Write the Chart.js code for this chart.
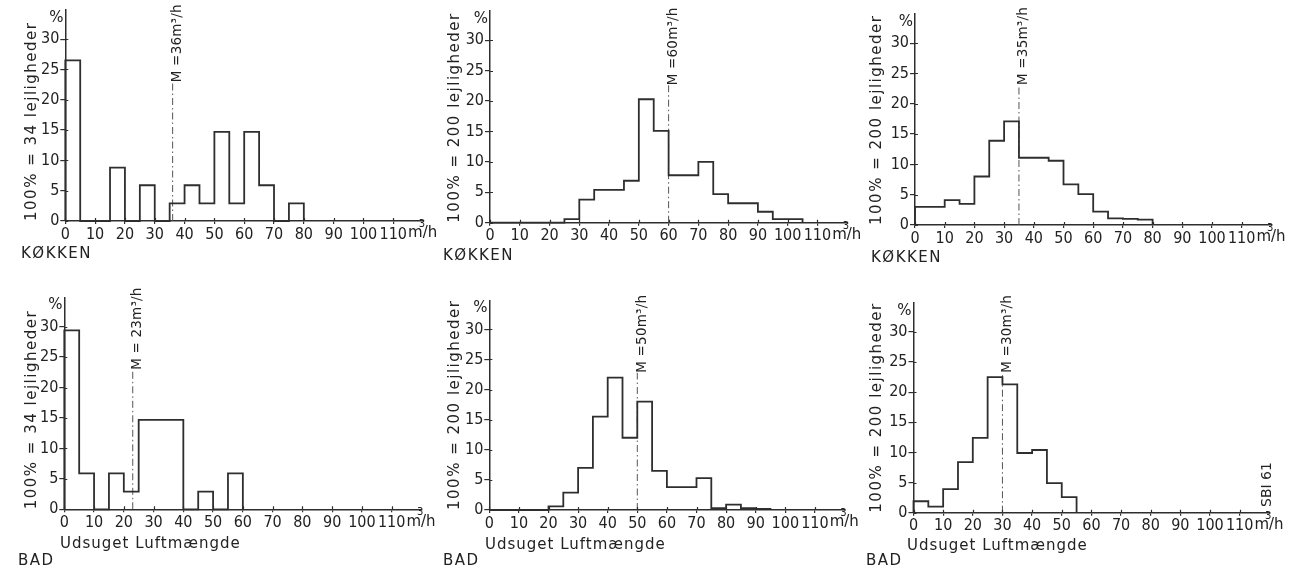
<!DOCTYPE html>
<html>
<head>
<meta charset="utf-8">
<script src="https://cdn.jsdelivr.net/npm/chart.js@4.4.1/dist/chart.umd.min.js"></script>
<style>
  html, body { margin: 0; padding: 0; background: #fff; width: 1304px; height: 573px; overflow: hidden; }
  canvas { position: absolute; }
</style>
</head>
<body>
<canvas id="c1"></canvas>
<canvas id="c2"></canvas>
<canvas id="c3"></canvas>
<canvas id="c4"></canvas>
<canvas id="c5"></canvas>
<canvas id="c6"></canvas>
<script>
// Lower edge of each 5 m³/h class
const binStarts = [0, 5, 10, 15, 20, 25, 30, 35, 40, 45, 50, 55, 60, 65, 70, 75, 80, 85, 90, 95, 100, 105, 110];
const xTicks = [0, 10, 20, 30, 40, 50, 60, 70, 80, 90, 100, 110];
const yTicks = [0, 5, 10, 15, 20, 25, 30];

// Share of dwellings (%) per class of extracted air flow
const kitchen34   = [26.5, 0, 0, 8.8, 0, 5.9, 0, 2.9, 5.9, 2.9, 14.7, 2.9, 14.7, 5.9, 0, 2.9];
const kitchen200a = [0, 0, 0, 0, 0, 0.6, 3.8, 5.4, 5.4, 6.9, 20.3, 15.1, 7.8, 7.8, 10.0, 4.7, 3.2, 3.2, 1.8, 0.6, 0.6];
const kitchen200b = [3.0, 3.0, 4.1, 3.5, 8.0, 13.9, 17.1, 11.1, 11.1, 10.6, 6.7, 5.1, 2.2, 1.1, 1.0, 0.9];
const bath34      = [29.4, 5.9, 0, 5.9, 2.9, 14.7, 14.7, 14.7, 0, 2.9, 0, 5.9];
const bath200a    = [0, 0, 0, 0, 0.6, 2.9, 7.0, 15.5, 22.0, 12.0, 18.0, 6.5, 3.8, 3.8, 5.3, 0.3, 0.9, 0.3, 0.2];
const bath200b    = [1.9, 1.0, 3.9, 8.4, 12.4, 22.5, 21.3, 9.9, 10.4, 4.9, 2.6];

// Mean flow per group (m³/h)
const means = [36, 60, 35, 23, 50, 30];
const meanLabels = ['M =36m³/h', 'M =60m³/h', 'M =35m³/h', 'M = 23m³/h', 'M =50m³/h', 'M =30m³/h'];
const yTitles = ['100% = 34 lejligheder', '100% = 200 lejligheder', '100% = 200 lejligheder',
                 '100% = 34 lejligheder', '100% = 200 lejligheder', '100% = 200 lejligheder'];

const FONT = "'DejaVu Sans', sans-serif";
const NARROW = "'Liberation Sans Narrow', 'DejaVu Sans Condensed', 'DejaVu Sans', sans-serif";
const INK = '#222';
const LINE = '#2e2e2e';

// Page placement of each panel: canvas box and plot rectangle (page px)
const panels = [
  { id: 'c1', values: kitchen34,   box: [0, -10, 440, 290],   area: [65.3, 10.1, 423.1, 221],     titleX: 32,  room: ['KØKKEN', 21, 254] },
  { id: 'c2', values: kitchen200a, box: [430, -10, 440, 290], area: [490, 11.1, 847.2, 222.7],    titleX: 455, room: ['KØKKEN', 443, 256] },
  { id: 'c3', values: kitchen200b, box: [862, -10, 442, 290], area: [915, 14.1, 1271.4, 225],     titleX: 877, room: ['KØKKEN', 871, 258] },
  { id: 'c4', values: bath34,      box: [0, 270, 440, 303],   area: [64.3, 297.4, 421.4, 509.3],  titleX: 32,  room: ['BAD', 18, 561], flow: [60, 544] },
  { id: 'c5', values: bath200a,    box: [430, 270, 440, 303], area: [489.3, 300.5, 844.5, 510],   titleX: 455, room: ['BAD', 443, 561], flow: [485, 545] },
  { id: 'c6', values: bath200b,    box: [862, 270, 442, 303], area: [913.5, 302.9, 1269.3, 512.7], titleX: 877, room: ['BAD', 866, 561], flow: [907, 546], stamp: ['SBI 61', 1267, 507] }
];
const meanTop = [22.9, 22.6, 23.1, 22.9, 22.8, 23.2];

function stepPoints(values) {
  const pts = [{ x: binStarts[0], y: 0 }];
  values.forEach((v, i) => pts.push({ x: binStarts[i], y: v }));
  pts.push({ x: binStarts[values.length], y: 0 });
  return pts;
}

// Annotation layer: tick crosses, %, axis title, mean label, unit, captions
const panelText = {
  id: 'panelText',
  afterDraw(chart, args, o) {
    const ctx = chart.ctx;
    const xs = chart.scales.x, ys = chart.scales.y;
    const ox = o.ox, oy = o.oy;
    ctx.save();
    ctx.strokeStyle = LINE;
    ctx.lineWidth = 1.2;
    ctx.beginPath();
    xs.ticks.forEach(t => {
      const px = Math.round(xs.getPixelForValue(t.value)) + 0.5;
      ctx.moveTo(px, ys.bottom); ctx.lineTo(px, ys.bottom - 3);
    });
    ys.ticks.forEach(t => {
      const py = Math.round(ys.getPixelForValue(t.value)) + 0.5;
      ctx.moveTo(xs.left, py); ctx.lineTo(xs.left + 3, py);
    });
    ctx.stroke();

    ctx.fillStyle = INK;
    ctx.textBaseline = 'middle';
    ctx.textAlign = 'center';
    ctx.font = '15px ' + FONT;
    ctx.fillText('%', xs.left - 9, ys.top + 8);

    // y-axis title, reading upwards from the baseline
    ctx.save();
    ctx.translate(o.titleX - ox, ys.bottom);
    ctx.rotate(-Math.PI / 2);
    ctx.textAlign = 'left';
    ctx.font = '15px ' + FONT;
    ctx.letterSpacing = '1.5px';
    ctx.fillText(o.title, 0, 0);
    ctx.restore();

    // mean label, reading upwards from the top of the mean line
    const mx = xs.getPixelForValue(o.mean), my = ys.getPixelForValue(o.meanTop);
    ctx.save();
    ctx.translate(mx + 5, my);
    ctx.rotate(-Math.PI / 2);
    ctx.textAlign = 'left';
    ctx.font = '13.5px ' + FONT;
    ctx.letterSpacing = '0.2px';
    ctx.fillText(o.meanLabel, 0, 0);
    ctx.restore();

    // unit after the last x tick label
    const ly = ys.bottom + 12.5;
    ctx.font = '16px ' + NARROW;
    const w110 = ctx.measureText('110').width;
    const ux = xs.getPixelForValue(110) + w110 / 2 + 1;
    ctx.textAlign = 'left';
    ctx.font = '15px ' + FONT;
    ctx.fillText('m', ux, ly);
    const mw = ctx.measureText('m').width;
    ctx.font = '10px ' + FONT;
    ctx.fillText('3', ux + mw - 4, ly - 9);
    ctx.font = '15px ' + FONT;
    ctx.fillText('/h', ux + mw, ly);

    // captions below the axis
    ctx.font = '15px ' + FONT;
    ctx.letterSpacing = '1.5px';
    ctx.fillText(o.room[0], o.room[1] - ox, o.room[2] - oy);
    if (o.flow) {
      ctx.letterSpacing = '1px';
      ctx.fillText('Udsuget Luftmængde', o.flow[0] - ox, o.flow[1] - oy);
    }
    ctx.letterSpacing = '0px';
    if (o.stamp) {
      ctx.save();
      ctx.translate(o.stamp[1] - ox, o.stamp[2] - oy);
      ctx.rotate(-Math.PI / 2);
      ctx.font = '14px ' + FONT;
      ctx.fillText(o.stamp[0], 0, 0);
      ctx.restore();
    }
    ctx.restore();
  }
};

panels.forEach((p, i) => {
  const [cl, ct, cw, ch] = p.box;
  const [L, T, R, B] = p.area;
  const cv = document.getElementById(p.id);
  cv.width = cw; cv.height = ch;
  cv.style.left = cl + 'px'; cv.style.top = ct + 'px';
  cv.style.width = cw + 'px'; cv.style.height = ch + 'px';

  new Chart(cv, {
    type: 'line',
    data: {
      datasets: [
        {
          data: stepPoints(p.values),
          stepped: 'before',
          borderColor: LINE,
          borderWidth: 1.8,
          pointRadius: 0,
          fill: false,
          clip: false
        },
        {
          data: [{ x: means[i], y: 0 }, { x: means[i], y: meanTop[i] }],
          borderColor: '#555',
          borderWidth: 1,
          borderDash: [7, 3, 1.5, 3],
          pointRadius: 0,
          fill: false,
          clip: false
        }
      ]
    },
    options: {
      responsive: false,
      animation: false,
      devicePixelRatio: 1,
      layout: { padding: { left: 0, top: T - ct, right: cl + cw - R, bottom: 0 } },
      plugins: {
        legend: { display: false },
        tooltip: { enabled: false },
        panelText: { ox: cl, oy: ct, mean: means[i], meanTop: meanTop[i], meanLabel: meanLabels[i],
                     title: yTitles[i], titleX: p.titleX, room: p.room, flow: p.flow, stamp: p.stamp }
      },
      scales: {
        x: {
          type: 'linear', min: 0, max: 120,
          afterBuildTicks: s => { s.ticks = xTicks.map(v => ({ value: v })); },
          afterFit: s => { s.height = ct + ch - B; },
          ticks: { autoSkip: false, maxRotation: 0, padding: 1, color: INK,
                   font: { family: NARROW, size: 16 } },
          grid: { drawOnChartArea: false, drawTicks: true, tickLength: 3, color: LINE, lineWidth: 1.2 },
          border: { display: true, color: LINE, width: 1.5 }
        },
        y: {
          type: 'linear', min: 0, max: 34.8,
          afterBuildTicks: s => { s.ticks = yTicks.map(v => ({ value: v })); },
          afterFit: s => { s.width = L - cl; },
          ticks: { padding: 1, color: INK, font: { family: NARROW, size: 16 } },
          grid: { drawOnChartArea: false, drawTicks: true, tickLength: 5, color: LINE, lineWidth: 1.2 },
          border: { display: true, color: LINE, width: 1.5 }
        }
      }
    },
    plugins: [panelText]
  });
});
</script>
</body>
</html>
